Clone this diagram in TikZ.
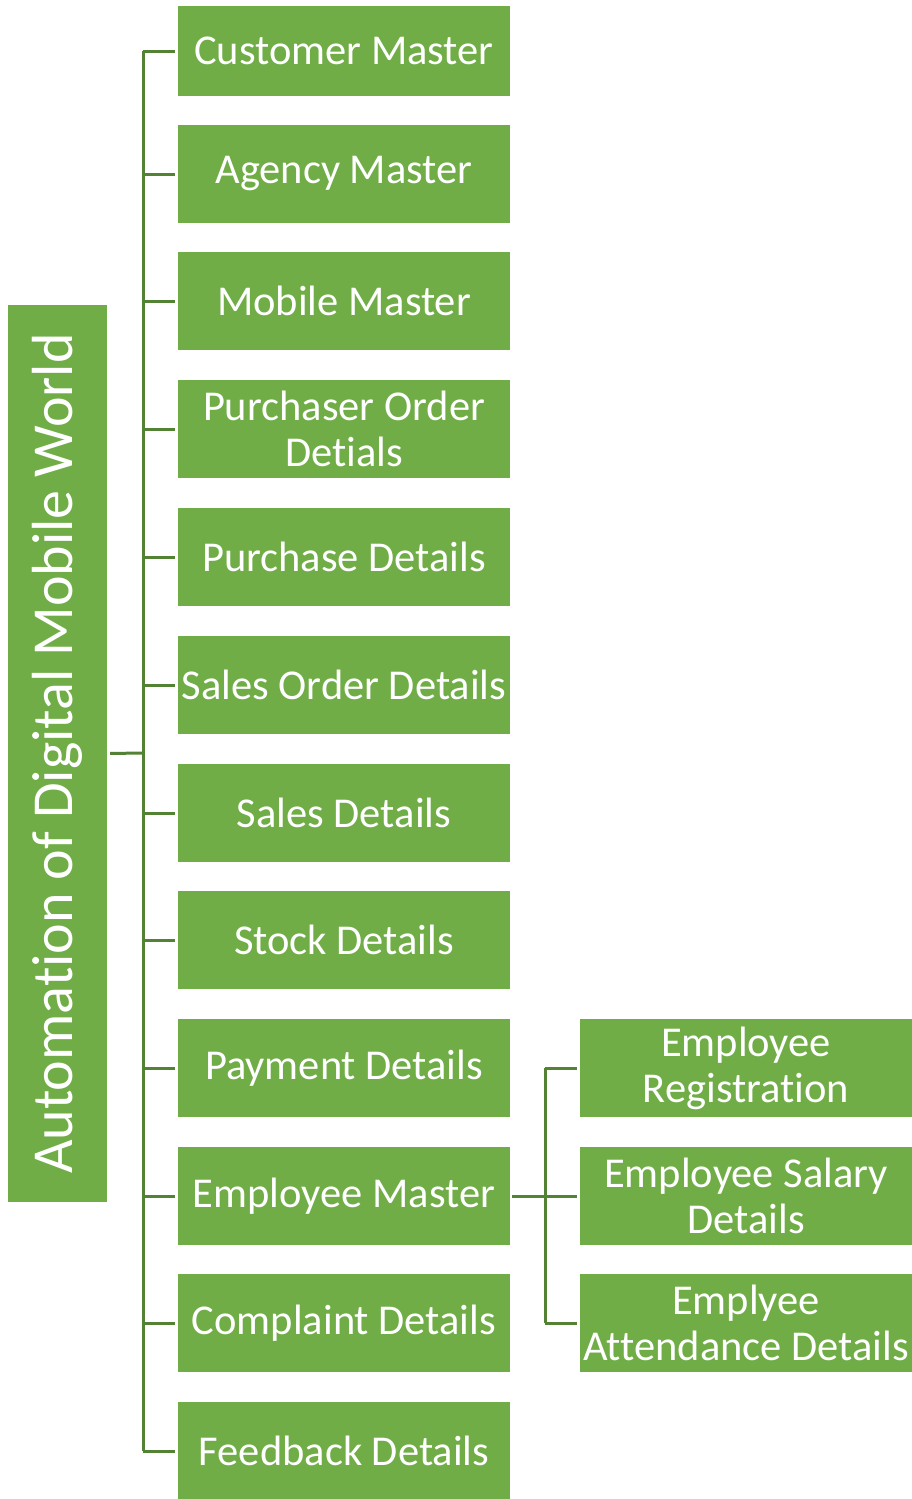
\documentclass[tikz,border=0pt]{standalone}
\usepackage{fontspec}
\setmainfont[Ligatures=NoCommon]{Carlito}
\usepackage{xcolor}
\definecolor{boxgreen}{HTML}{70AD47}
\definecolor{linegreen}{HTML}{548235}

\begin{document}
\begin{tikzpicture}[x=1pt,y=-1pt,
    item/.style={fill=boxgreen, text=white, inner sep=1pt, align=center,
                 minimum width=332pt, minimum height=98pt,
                 font=\fontsize{42.5}{46}\selectfont},
    link/.style={draw=linegreen, line width=3pt}]

\useasboundingbox (0,0) rectangle (912,1499);

\node[item, rotate=90, minimum width=897pt, minimum height=99pt,
      font=\fontsize{58}{62}\selectfont] (root) at (57.5,753.5)
      {Automation of Digital Mobile World};

\node[item, minimum height=90pt] (customer) at (344,51) {Customer Master};
\node[item] (agency)    at (344,174)  {Agency Master};
\node[item] (mobile)    at (344,301)  {Mobile Master};
\node[item] (porder)    at (344,429)  {Purchaser Order\\Detials};
\node[item] (purchase)  at (344,557)  {Purchase Details};
\node[item] (sorder)    at (344,685)  {Sales Order Details};
\node[item] (sales)     at (344,813)  {Sales Details};
\node[item] (stock)     at (344,940)  {Stock Details};
\node[item] (payment)   at (344,1068) {Payment Details};
\node[item] (employee)  at (344,1196) {Employee Master};
\node[item] (complaint) at (344,1323) {Complaint Details};
\node[item] (feedback)  at (344,1451) {Feedback Details};

\node[item] (register)   at (746,1068) {Employee\\Registration};
\node[item] (salary)     at (746,1196) {Employee Salary\\Details};
\node[item] (attendance) at (746,1323) {Emplyee\\Attendance Details};

% main trunk
\coordinate (trunk) at (143,753);
\draw[link, shorten <=3pt] (root.south) -- (trunk);
\draw[link] (trunk |- customer.west) -- (trunk |- feedback.west);
\draw[link, shorten >=3pt] (trunk |- customer.west) -- (customer.west);
\draw[link, shorten >=3pt] (trunk |- agency.west) -- (agency.west);
\draw[link, shorten >=3pt] (trunk |- mobile.west) -- (mobile.west);
\draw[link, shorten >=3pt] (trunk |- porder.west) -- (porder.west);
\draw[link, shorten >=3pt] (trunk |- purchase.west) -- (purchase.west);
\draw[link, shorten >=3pt] (trunk |- sorder.west) -- (sorder.west);
\draw[link, shorten >=3pt] (trunk |- sales.west) -- (sales.west);
\draw[link, shorten >=3pt] (trunk |- stock.west) -- (stock.west);
\draw[link, shorten >=3pt] (trunk |- payment.west) -- (payment.west);
\draw[link, shorten >=3pt] (trunk |- employee.west) -- (employee.west);
\draw[link, shorten >=3pt] (trunk |- complaint.west) -- (complaint.west);
\draw[link, shorten >=3pt] (trunk |- feedback.west) -- (feedback.west);

% employee branch
\coordinate (sub) at (545,1196);
\draw[link, shorten <=2pt] (employee.east) -- (sub);
\draw[link] (sub |- register.west) -- (sub |- attendance.west);
\draw[link, shorten >=3pt] (sub |- register.west) -- (register.west);
\draw[link, shorten >=3pt] (sub) -- (salary.west);
\draw[link, shorten >=3pt] (sub |- attendance.west) -- (attendance.west);

\end{tikzpicture}
\end{document}
